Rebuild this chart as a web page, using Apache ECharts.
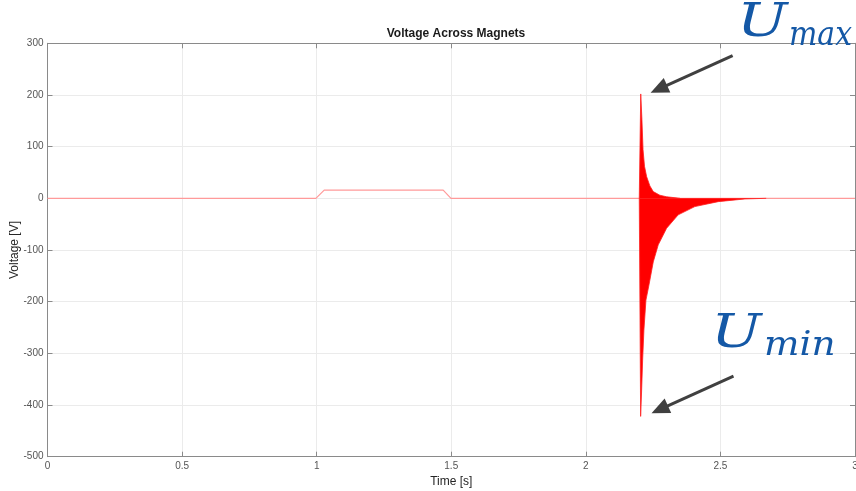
<!DOCTYPE html>
<html>
<head>
<meta charset="utf-8">
<script src="https://cdn.jsdelivr.net/npm/echarts@6/dist/echarts.min.js"></script>
<style>
html,body{margin:0;padding:0;background:#fff;}
#chart{width:856px;height:491px;}
</style>
</head>
<body>
<div id="chart"></div>
<script>
// ---- data ----
const titleText = 'Voltage Across Magnets';
const xName = 'Time [s]';
const yName = 'Voltage [V]';
const xTicks = [0, 0.5, 1, 1.5, 2, 2.5, 3];
const yTicks = [-500, -400, -300, -200, -100, 0, 100, 200, 300];

// slow baseline signal (pulse between 1 s and 1.5 s)
const baseT = [0, 0.997, 1.028, 1.470, 1.499, 3];
const baseV = [0, 0, 16, 16, 0, 0];

// envelope of the fast oscillation after 2.2 s
const upperT = [2.1985, 2.2040, 2.2084, 2.2125, 2.2180, 2.2258, 2.2380, 2.2505, 2.2750, 2.3000, 2.3500];
const upperV = [0, 202, 152, 94, 62, 42, 24, 13, 6, 3, 0];
const lowerT = [2.1985, 2.2036, 2.2073, 2.2110, 2.2158, 2.2233, 2.2344, 2.2505, 2.2690, 2.3000, 2.3430, 2.4050, 2.4920, 2.5910, 2.6700];
const lowerV = [0, -422, -371, -313, -255, -197, -168, -123, -90, -58, -32, -16, -6.4, -1.2, 0];

// annotation anchor points (data coords)
const uMaxPoint = [2.2407, 204.5];
const uMinPoint = [2.2440, -415.8];

const zip = (a, b) => a.map((v, i) => [v, b[i]]);

const chart = echarts.init(document.getElementById('chart'), null, {renderer: 'canvas'});

const axisColor = '#8a8a8a';
const labelColor = '#555555';
const gridColor = '#ebebeb';

const option = {
  backgroundColor: '#ffffff',
  animation: false,
  title: {
    text: titleText,
    left: 451,
    top: 23,
    textAlign: 'center',
    textStyle: {fontFamily: 'Liberation Sans', fontSize: 12, fontWeight: 'bold', color: '#1a1a1a'}
  },
  grid: {left: 47.5, right: 1, top: 43.3, bottom: 34.3, containLabel: false, outerBoundsMode: 'none'},
  xAxis: [{
    type: 'value', min: xTicks[0], max: xTicks[xTicks.length - 1], interval: 0.5,
    name: xName, nameLocation: 'middle', nameGap: 19, nameMoveOverlap: false,
    nameTextStyle: {fontFamily: 'Liberation Sans', fontSize: 12, color: '#262626'},
    axisLine: {show: true, onZero: false, lineStyle: {color: axisColor, width: 1}},
    axisTick: {show: true, inside: true, length: 5, lineStyle: {color: axisColor}},
    axisLabel: {fontFamily: 'Liberation Sans', fontSize: 10, color: labelColor, margin: 5, showMaxLabel: true, showMinLabel: true},
    splitLine: {show: true, lineStyle: {color: gridColor, width: 1}}
  }, {
    type: 'value', position: 'top', min: xTicks[0], max: xTicks[xTicks.length - 1], interval: 0.5,
    axisLine: {show: true, onZero: false, lineStyle: {color: axisColor, width: 1}},
    axisTick: {show: true, inside: true, length: 5, lineStyle: {color: axisColor}},
    axisLabel: {show: false}, splitLine: {show: false}
  }],
  yAxis: [{
    type: 'value', min: yTicks[0], max: yTicks[yTicks.length - 1], interval: 100,
    name: yName, nameLocation: 'middle', nameGap: 26.5, nameRotate: 90, nameMoveOverlap: false,
    nameTextStyle: {fontFamily: 'Liberation Sans', fontSize: 12, color: '#262626'},
    axisLine: {show: true, onZero: false, lineStyle: {color: axisColor, width: 1}},
    axisTick: {show: true, inside: true, length: 5, lineStyle: {color: axisColor}},
    axisLabel: {fontFamily: 'Liberation Sans', fontSize: 10, color: labelColor, margin: 4},
    splitLine: {show: true, lineStyle: {color: gridColor, width: 1}}
  }, {
    type: 'value', position: 'right', min: yTicks[0], max: yTicks[yTicks.length - 1], interval: 100,
    axisLine: {show: true, onZero: false, lineStyle: {color: axisColor, width: 1}},
    axisTick: {show: true, inside: true, length: 5, lineStyle: {color: axisColor}},
    axisLabel: {show: false}, splitLine: {show: false}
  }],
  series: [{
    name: 'baseline', type: 'line', xAxisIndex: 0, yAxisIndex: 0,
    data: zip(baseT, baseV), showSymbol: false, symbol: 'none',
    lineStyle: {color: '#ff9a9a', width: 1.2}, z: 3
  }, {
    name: 'upper', type: 'line', xAxisIndex: 0, yAxisIndex: 0,
    data: zip(upperT, upperV), showSymbol: false, symbol: 'none',
    lineStyle: {color: '#ff2020', width: 0.8},
    areaStyle: {color: '#ff0000', opacity: 1, origin: 'auto'}, z: 4
  }, {
    name: 'lower', type: 'line', xAxisIndex: 0, yAxisIndex: 0,
    data: zip(lowerT, lowerV), showSymbol: false, symbol: 'none',
    lineStyle: {color: '#ff2020', width: 0.8},
    areaStyle: {color: '#ff0000', opacity: 1, origin: 'auto'}, z: 4
  }]
};
chart.setOption(option);

function arrow(tip, dx, dy) {
  const tail = [tip[0] + dx, tip[1] + dy];
  const len = Math.hypot(dx, dy);
  const ux = -dx / len, uy = -dy / len; // direction tail->tip
  const hl = 18, hw = 8;
  const bx = tip[0] - ux * hl, by = tip[1] - uy * hl;
  const px = -uy, py = ux;
  return [{
    type: 'line', silent: true, z: 10,
    shape: {x1: tail[0], y1: tail[1], x2: bx + ux * 2, y2: by + uy * 2},
    style: {stroke: '#404040', lineWidth: 3}
  }, {
    type: 'polygon', silent: true, z: 10,
    shape: {points: [[tip[0], tip[1]], [bx + px * hw, by + py * hw], [bx - px * hw, by - py * hw]]},
    style: {fill: '#404040'}
  }];
}

const pMax = chart.convertToPixel({xAxisIndex: 0, yAxisIndex: 0}, uMaxPoint);
const pMin = chart.convertToPixel({xAxisIndex: 0, yAxisIndex: 0}, uMinPoint);

const annColor = '#1458a6';
const bigSize = 46, subSize = 34;
const bigFont = 'italic ' + bigSize + 'px "DejaVu Serif"';
const subFont = 'italic ' + subSize + 'px "DejaVu Serif"';
// place text by its baseline (top-aligned box, baseline ~0.82 em below top)
function annText(str, x, baseline, font, size, sx) {
  return {type: 'text', silent: true, z: 11, x: x, y: baseline - 0.82 * size, scaleX: sx,
    style: {text: str, font: font, fill: annColor, align: 'left', verticalAlign: 'top'}};
}

chart.setOption({
  graphic: [
    ...arrow(pMax, 82, -37),
    ...arrow(pMin, 82, -37),
    annText('U', 737, 39, bigFont, bigSize, 1.3),
    annText('max', 789, 47, subFont, subSize, 0.88),
    annText('U', 711, 350, bigFont, bigSize, 1.3),
    annText('min', 764, 357, subFont, subSize, 1.1)
  ]
});
</script>
</body>
</html>
